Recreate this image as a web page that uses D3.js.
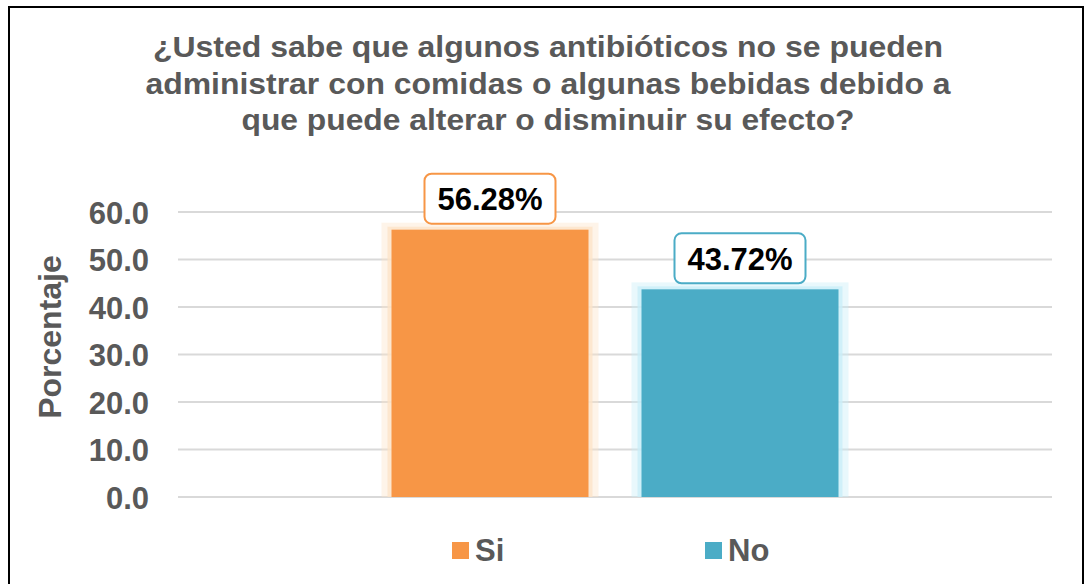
<!DOCTYPE html>
<html>
<head>
<meta charset="utf-8">
<script src="https://cdn.jsdelivr.net/npm/d3@7"></script>
<style>
  body { margin: 0; background: #fff; }
  text { font-family: "Liberation Sans", Arial, sans-serif; font-weight: bold; }
</style>
</head>
<body>
<div id="chart"></div>
<script>
var w = 1086
var h = 584

var categories = ['Si', 'No']
var values = [56.28, 43.72]
var colors = ['#f79646', '#4bacc6']
var glows = ['#fde3c8', '#c9eef8']
var yTicks = [0, 10, 20, 30, 40, 50, 60]
var titleLines = [
  '¿Usted sabe que algunos antibióticos no se pueden',
  'administrar con comidas o algunas bebidas debido a',
  'que puede alterar o disminuir su efecto?'
]
// measured widths of the title lines in the picture
var titleWidths = [790, 805, 613]

var svg = d3.select('#chart')
  .append('svg')
  .attr('width', w)
  .attr('height', h)

// outer frame
svg.append('rect')
  .attr('x', 9)
  .attr('y', 7)
  .attr('width', 1074)
  .attr('height', 600)
  .attr('fill', 'none')
  .attr('stroke', '#000')
  .attr('stroke-width', 2)

svg.selectAll('.title')
  .data(titleLines)
  .enter()
  .append('text')
  .attr('class', 'title')
  .attr('x', 548)
  .attr('y', function (d, i) { return 57 + i * 36.5 })
  .attr('text-anchor', 'middle')
  .attr('font-size', 30)
  .attr('fill', '#595959')
  .attr('textLength', function (d, i) { return titleWidths[i] })
  .attr('lengthAdjust', 'spacingAndGlyphs')
  .text(function (d) { return d })

var x = d3.scaleBand()
  .domain(categories)
  .range([178, 1052])
  .paddingInner(0.212)
  .paddingOuter(0.854)

var y = d3.scaleLinear()
  .domain([0, 60])
  .range([497, 212])

// gridlines
svg.selectAll('.grid')
  .data(yTicks)
  .enter()
  .append('line')
  .attr('x1', 178)
  .attr('x2', 1052)
  .attr('y1', function (d) { return y(d) })
  .attr('y2', function (d) { return y(d) })
  .attr('stroke', '#d9d9d9')
  .attr('stroke-width', 2)

var yAxis = svg.append('g')
  .attr('transform', 'translate(149,0)')
  .call(d3.axisLeft(y).tickValues(yTicks).tickFormat(d3.format('.1f')).tickSize(0).tickPadding(0))
yAxis.select('.domain').remove()
yAxis.selectAll('text')
  .attr('font-size', 31)
  .attr('fill', '#595959')
  .attr('font-family', '"Liberation Sans", Arial, sans-serif')
  .attr('font-weight', 'bold')
  .attr('dy', '0.36em')

svg.append('text')
  .attr('transform', 'translate(61,337) rotate(-90)')
  .attr('text-anchor', 'middle')
  .attr('font-size', 32)
  .attr('fill', '#595959')
  .text('Porcentaje')

// bars with soft glow
var bars = svg.selectAll('.bar')
  .data(values)
  .enter()
  .append('g')

bars.append('rect')
  .attr('x', function (d, i) { return x(categories[i]) - 10 })
  .attr('y', function (d) { return y(d) - 7 })
  .attr('width', x.bandwidth() + 20)
  .attr('height', function (d) { return y(0) - y(d) + 7 })
  .attr('fill', function (d, i) { return glows[i] })
  .attr('opacity', 0.4)

bars.append('rect')
  .attr('x', function (d, i) { return x(categories[i]) - 4 })
  .attr('y', function (d) { return y(d) - 3 })
  .attr('width', x.bandwidth() + 8)
  .attr('height', function (d) { return y(0) - y(d) + 3 })
  .attr('fill', function (d, i) { return glows[i] })
  .attr('opacity', 0.8)

bars.append('rect')
  .attr('x', function (d, i) { return x(categories[i]) })
  .attr('y', function (d) { return y(d) })
  .attr('width', x.bandwidth())
  .attr('height', function (d) { return y(0) - y(d) })
  .attr('fill', function (d, i) { return colors[i] })

// data labels
var labels = svg.selectAll('.lbl')
  .data(values)
  .enter()
  .append('g')
  .attr('transform', function (d, i) {
    return 'translate(' + (x(categories[i]) + x.bandwidth() / 2) + ',' + (y(d) - 31) + ')'
  })

labels.append('rect')
  .attr('x', -65.5)
  .attr('y', -25)
  .attr('width', 131)
  .attr('height', 50)
  .attr('rx', 7)
  .attr('fill', '#fff')
  .attr('stroke', function (d, i) { return colors[i] })
  .attr('stroke-width', 2)

labels.append('text')
  .attr('text-anchor', 'middle')
  .attr('dy', '0.36em')
  .attr('font-size', 31)
  .attr('fill', '#000')
  .text(function (d) { return d.toFixed(2) + '%' })

// legend
var legendX = [452, 705]
var legend = svg.selectAll('.leg')
  .data(categories)
  .enter()
  .append('g')
  .attr('transform', function (d, i) { return 'translate(' + legendX[i] + ',542)' })

legend.append('rect')
  .attr('width', 17)
  .attr('height', 17)
  .attr('fill', function (d, i) { return colors[i] })

legend.append('text')
  .attr('x', 23)
  .attr('y', 19)
  .attr('font-size', 31)
  .attr('fill', '#595959')
  .text(function (d) { return d })
</script>
</body>
</html>
